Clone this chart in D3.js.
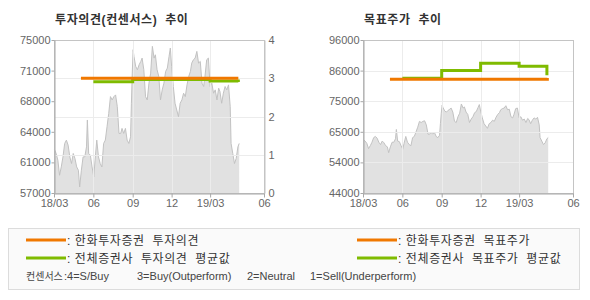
<!DOCTYPE html>
<html>
<head>
<meta charset="utf-8">
<script src="https://cdn.jsdelivr.net/npm/d3@7"></script>
<style>
  body { margin: 0; background: #fff; }
  svg { display: block; }
  text { font-family: "Liberation Sans", "Noto Sans CJK KR", sans-serif; }
</style>
</head>
<body>
<div id="chart"></div>
<script>
// Daily close (sampled), shared by both panels
const priceDates = [
  "2018-03-02","2018-03-06","2018-03-10","2018-03-14","2018-03-18","2018-03-22","2018-03-26","2018-03-30",
  "2018-04-03","2018-04-07","2018-04-11","2018-04-15","2018-04-19","2018-04-23","2018-04-27","2018-04-30",
  "2018-05-04","2018-05-08","2018-05-12","2018-05-16","2018-05-18","2018-05-21","2018-05-25","2018-05-29",
  "2018-06-02","2018-06-05","2018-06-09","2018-06-13","2018-06-17","2018-06-21","2018-06-25","2018-06-29",
  "2018-07-03","2018-07-07","2018-07-11","2018-07-15","2018-07-19","2018-07-23","2018-07-27","2018-07-31",
  "2018-08-04","2018-08-07","2018-08-11","2018-08-15","2018-08-19","2018-08-23","2018-08-27","2018-08-29",
  "2018-08-31","2018-09-02","2018-09-04","2018-09-08","2018-09-12","2018-09-16","2018-09-20","2018-09-23",
  "2018-09-27","2018-10-01","2018-10-05","2018-10-09","2018-10-13","2018-10-17","2018-10-21","2018-10-24",
  "2018-10-28","2018-11-01","2018-11-05","2018-11-09","2018-11-13","2018-11-17","2018-11-21","2018-11-25",
  "2018-11-28","2018-12-01","2018-12-05","2018-12-09","2018-12-13","2018-12-17","2018-12-21","2018-12-25",
  "2018-12-29","2019-01-02","2019-01-06","2019-01-10","2019-01-14","2019-01-17","2019-01-21","2019-01-25",
  "2019-01-29","2019-02-02","2019-02-06","2019-02-10","2019-02-14","2019-02-17","2019-02-21","2019-02-25",
  "2019-03-01","2019-03-05","2019-03-09","2019-03-13","2019-03-17","2019-03-21","2019-03-24","2019-03-28",
  "2019-04-01","2019-04-05","2019-04-09","2019-04-13","2019-04-17","2019-04-19","2019-04-23","2019-04-27",
  "2019-05-01","2019-05-05","2019-05-08"
];
const priceValues = [
  62120,61650,60860,59090,60070,61250,62830,63220,
  62630,61250,60470,61650,61060,60070,59680,57710,
  59680,61250,61250,62430,65590,61650,61450,60070,
  58890,60860,63220,61250,60470,60070,62830,63220,
  64800,66370,68340,67950,68340,68540,67160,64010,
  64010,64600,64010,64600,63220,62830,63610,67560,
  71100,73860,73070,71890,71500,72090,72480,72870,
  71500,68340,67950,69920,71100,74250,72870,73260,
  71500,70710,67950,69130,69920,71300,71690,73070,
  74050,71890,69530,67560,66770,65980,67560,67950,
  68740,68340,69720,70710,71300,72280,72680,72870,
  73660,72280,72480,69920,69530,70710,72680,72870,
  69530,69920,68740,69130,67950,69330,68940,67560,
  68740,69530,69130,69720,67160,62830,61650,60470,
  61060,62430,62830
];

// 투자의견 (right axis 0-4)
const opinionDates = ["2018-05-03", "2019-05-06"];
const opinionValues = [3, 3];
const avgOpinionDates = ["2018-06-01", "2018-09-01", "2019-03-01", "2019-05-06"];
const avgOpinionValues = [2.91, 2.97, 2.93, 2.90];

// 목표주가
const targetDates = ["2018-05-03", "2019-05-06"];
const targetValues = [82700, 83100];
const avgTargetDates = ["2018-06-01", "2018-09-01", "2018-12-01", "2019-03-01", "2019-05-05"];
const avgTargetValues = [83000, 85600, 88100, 87100, 84000];

// Axes
const xDomain = ["2018-03-01", "2019-07-05"];
const xTickDates = ["2018-03-01", "2018-06-01", "2018-09-01", "2018-12-01", "2019-03-01", "2019-07-05"];
const xTickLabels = ["18/03", "06", "09", "12", "19/03", "06"];
const opinionPriceTicks = [57000, 60600, 64200, 67800, 71400, 75000];
const opinionPriceLabels = ["57000", "61000", "64000", "68000", "71000", "75000"];
const opinionTicks = [0, 1, 2, 3, 4];
const targetPriceTicks = [44000, 54400, 64800, 75200, 85600, 96000];
const targetPriceLabels = ["44000", "54000", "65000", "75000", "86000", "96000"];

const ORANGE = "#f07800";
const GREEN = "#7fbb00";

const parse = d3.timeParse("%Y-%m-%d");
const price = priceDates.map((d, i) => ({date: parse(d), value: priceValues[i]}));
const zip = (ds, vs) => ds.map((d, i) => ({date: parse(d), value: vs[i]}));

const width = 590, height = 300;
const svg = d3.select("#chart").append("svg").attr("width", width).attr("height", height);

function panel({left, title, yDomain, yTicks, yLabels, y2Ticks, lines}) {
  const top = 40, bottom = 193, w = 210;
  const x = d3.scaleTime(xDomain.map(parse), [left, left + w]);
  const y = d3.scaleLinear(yDomain, [bottom, top]);
  const y2 = d3.scaleLinear([0, 4], [bottom, top]);
  const g = svg.append("g");

  g.append("text").attr("x", left + 1).attr("y", 24)
    .attr("font-size", 12).attr("font-weight", "bold").attr("fill", "#333")
    .attr("letter-spacing", 0.6).attr("xml:space", "preserve")
    .attr("font-family", "'Noto Sans CJK KR', sans-serif")
    .text(title);

  // price area
  g.append("path").datum(price)
    .attr("fill", "#e1e1e1")
    .attr("d", d3.area().x((d) => x(d.date)).y0(bottom).y1((d) => y(d.value)));
  g.append("path").datum(price)
    .attr("fill", "none").attr("stroke", "#c2c2c2").attr("stroke-width", 1)
    .attr("d", d3.line().x((d) => x(d.date)).y((d) => y(d.value)));

  // grid
  const grid = g.append("g").attr("stroke", "#ececec").attr("stroke-width", 1);
  grid.selectAll(".v").data(xTickDates.slice(1, -1).map(parse)).join("line")
    .attr("x1", (d) => Math.round(x(d)) + 0.5).attr("x2", (d) => Math.round(x(d)) + 0.5)
    .attr("y1", top).attr("y2", bottom);
  const hTicks = y2Ticks ? y2Ticks.map((d) => y2(d)) : yTicks.map((d) => y(d));
  grid.selectAll(".h").data(hTicks.slice(1, -1)).join("line")
    .attr("x1", left).attr("x2", left + w)
    .attr("y1", (d) => Math.round(d) + 0.5).attr("y2", (d) => Math.round(d) + 0.5);

  // lines
  for (const ln of lines) {
    const sc = ln.axis === 2 ? y2 : y;
    g.append("path").datum(ln.data)
      .attr("fill", "none").attr("stroke", ln.color).attr("stroke-width", 3)
      .attr("d", d3.line().curve(d3.curveStepAfter).x((d) => x(d.date)).y((d) => sc(d.value)));
  }

  // frame
  g.append("rect").attr("x", left + 0.5).attr("y", top + 0.5).attr("width", w).attr("height", bottom - top)
    .attr("fill", "none").attr("stroke", "#c4c4c4");

  const styleAxis = (a) => {
    a.select(".domain").attr("stroke", "#a8a8a8");
    a.selectAll(".tick line").attr("stroke", "#a8a8a8");
    a.selectAll("text").attr("fill", "#666").attr("font-size", 11);
  };

  g.append("g").attr("transform", `translate(${left + 0.5},0)`)
    .call(d3.axisLeft(y).tickValues(yTicks).tickFormat((d, i) => yLabels[i]).tickSize(3).tickPadding(1).tickSizeOuter(0))
    .call(styleAxis);

  g.append("g").attr("transform", `translate(0,${bottom + 0.5})`)
    .call(d3.axisBottom(x).tickValues(xTickDates.map(parse)).tickFormat((d, i) => xTickLabels[i]).tickSize(4).tickPadding(2).tickSizeOuter(0))
    .call(styleAxis);

  if (y2Ticks) {
    g.append("g").attr("transform", `translate(${left + w + 0.5},0)`)
      .call(d3.axisRight(y2).tickValues(y2Ticks).tickFormat(d3.format("d")).tickSize(0).tickPadding(4).tickSizeOuter(0))
      .call(styleAxis)
      .call((a) => a.select(".domain").attr("stroke", "#c4c4c4"));
  }
}

panel({
  left: 54,
  title: "투자의견(컨센서스)  추이",
  yDomain: [57000, 75000],
  yTicks: opinionPriceTicks,
  yLabels: opinionPriceLabels,
  y2Ticks: opinionTicks,
  lines: [
    {data: zip(avgOpinionDates, avgOpinionValues), color: GREEN, axis: 2},
    {data: zip(opinionDates, opinionValues), color: ORANGE, axis: 2},
  ],
});

panel({
  left: 363,
  title: "목표주가  추이",
  yDomain: [44000, 96000],
  yTicks: targetPriceTicks,
  yLabels: targetPriceLabels,
  y2Ticks: null,
  lines: [
    {data: zip(avgTargetDates, avgTargetValues), color: GREEN, axis: 1},
    {data: zip(targetDates, targetValues), color: ORANGE, axis: 1},
  ],
});

// Legend
const legendItems = [
  {label: ": 한화투자증권  투자의견", color: ORANGE, x: 26, y: 240},
  {label: ": 전체증권사  투자의견  평균값", color: GREEN, x: 26, y: 258},
  {label: ": 한화투자증권  목표주가", color: ORANGE, x: 357, y: 240},
  {label: ": 전체증권사  목표주가  평균값", color: GREEN, x: 357, y: 258},
];
const consensusPrefix = "컨센서스";
const consensusLabels = [":4=S/Buy", "3=Buy(Outperform)", "2=Neutral", "1=Sell(Underperform)"];
const consensusX = [64, 137, 247, 310];

const legend = svg.append("g");
legend.append("rect").attr("x", 8.5).attr("y", 228.5).attr("width", 571).attr("height", 61)
  .attr("fill", "#fafafa").attr("stroke", "#dcdcdc");
const li = legend.selectAll(".item").data(legendItems).join("g");
li.append("line").attr("x1", (d) => d.x).attr("x2", (d) => d.x + 40)
  .attr("y1", (d) => d.y).attr("y2", (d) => d.y)
  .attr("stroke", (d) => d.color).attr("stroke-width", 3);
li.append("text").attr("x", (d) => d.x + 41).attr("y", (d) => d.y + 4.5)
  .attr("font-size", 12).attr("fill", "#333").attr("xml:space", "preserve")
  .attr("letter-spacing", 0.6)
  .attr("font-family", "'Noto Sans CJK KR', sans-serif")
  .text((d) => d.label);
legend.append("text").attr("x", 26).attr("y", 280)
  .attr("font-size", 10).attr("fill", "#444")
  .attr("font-family", "'Noto Sans CJK KR', sans-serif")
  .text(consensusPrefix);
legend.selectAll(".cons").data(consensusLabels).join("text")
  .attr("x", (d, i) => consensusX[i]).attr("y", 280)
  .attr("font-size", 11).attr("fill", "#444")
  .text((d) => d);
</script>
</body>
</html>
